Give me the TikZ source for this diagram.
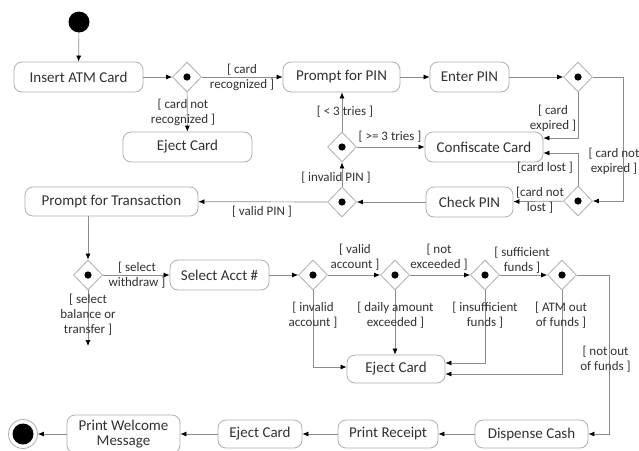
\documentclass[tikz,border=0pt]{standalone}
\usepackage{fontspec}
\setmainfont{Carlito}
\usetikzlibrary{shapes.geometric,arrows.meta}
\definecolor{linec}{RGB}{140,140,140}
\definecolor{boxc}{RGB}{175,175,175}
\definecolor{txtc}{RGB}{50,50,50}
\begin{document}
\begin{tikzpicture}[x=1pt,y=-1pt,
  act/.style={draw=boxc,rounded corners=8pt,line width=0.8pt,minimum height=30pt,inner sep=0pt,text=txtc,font=\fontsize{15}{17}\selectfont,align=center},
  dec/.style={draw=boxc,shape=diamond,minimum width=29pt,minimum height=30pt,inner sep=0pt,line width=0.8pt},
  flow/.style={draw=linec,line width=0.7pt,-{Latex[length=6pt,width=5pt,color=black]}},
  lbl/.style={text=txtc,font=\fontsize{13}{15}\selectfont,align=center,inner sep=0pt}
]
\useasboundingbox (0,0) rectangle (639,450);
\fill[white] (0,0) rectangle (639,450);

% initial / final
\node[circle,fill=black,minimum size=21pt,inner sep=0pt] (start) at (79,22) {};
\node[circle,draw=boxc,line width=0.8pt,minimum size=29pt,inner sep=0pt] (end) at (23,434) {};
\fill (end) circle[radius=10.5pt];

% actions
\node[act,minimum width=129pt] (insert) at (78.5,77) {Insert ATM Card};
\node[act,minimum width=117pt] (pin) at (341.5,77) {Prompt for PIN};
\node[act,minimum width=79pt] (enter) at (469.5,77) {Enter PIN};
\node[act,minimum width=129pt] (eject1) at (187.5,147) {Eject Card};
\node[act,minimum width=118pt] (conf) at (484,147) {Confiscate Card};
\node[act,minimum width=87pt] (check) at (469.5,202) {Check PIN};
\node[act,minimum width=173pt,minimum height=29pt] (ptrans) at (111.5,201.5) {Prompt for Transaction};
\node[act,minimum width=99pt] (sel) at (219.5,275) {Select Acct \#};
\node[act,minimum width=98pt,minimum height=28pt] (eject2) at (396,369) {Eject Card};
\node[act,minimum width=113pt,minimum height=28pt] (disp) at (531.5,434) {Dispense Cash};
\node[act,minimum width=100pt,minimum height=28pt] (receipt) at (388,434) {Print Receipt};
\node[act,minimum width=84pt,minimum height=28pt] (eject3) at (260,434) {Eject Card};
\node[act,minimum width=113pt,minimum height=38pt] (welcome) at (123.5,434) {Print Welcome\\[-2pt]Message};

% decisions
\foreach \n/\x/\y in {d1/187/77, d2/578/77, d3/578/201, d4/342/202, d5/342/147,
                      d6/88/275, d7/313/275, d8/395/275, d9/485/275, d10/562/275} {
  \node[dec] (\n) at (\x,\y) {};
  \fill (\n) circle[radius=3.6pt];
}
\coordinate (other) at (88,346);

% connectors
\draw[flow] (start) -- (insert);
\draw[flow] (insert) -- (d1);
\draw[flow] (d1) -- (pin);
\draw[flow] (d1) -- (eject1);
\draw[flow] (pin) -- (enter);
\draw[flow] (enter) -- (d2);
\draw[flow] (d2.south) |- ([yshift=9pt]conf.east);
\draw[flow] (d2.east) -- ++(30,0) |- (d3.east);
\draw[flow] (d3.north) |- ([yshift=-6pt]conf.east);
\draw[flow] (d3) -- (check);
\draw[flow] (check) -- (d4);
\draw[flow] (d4) -- (d5);
\draw[flow] (d5.north) -- (d5.north |- pin.south);
\draw[flow] (d5) -- (conf);
\draw[flow] (d4) -- (ptrans);
\draw[flow] (d6.north |- ptrans.south) -- (d6.north);
\draw[flow] (d6.south) -- (other);
\draw[flow] (d6) -- (sel);
\draw[flow] (sel) -- (d7);
\draw[flow] (d7) -- (d8);
\draw[flow] (d8) -- (d9);
\draw[flow] (d9) -- (d10);
\draw[flow] (d7.south) |- ([yshift=2pt]eject2.west);
\draw[flow] (d8.south) -- (d8.south |- eject2.north);
\draw[flow] (d9.south) |- ([yshift=6pt]eject2.east);
\draw[flow] (d10.south) |- ([yshift=-5pt]eject2.east);
\draw[flow] (d10.east) -- ++(32,0) |- (disp.east);
\draw[flow] (disp) -- (receipt);
\draw[flow] (receipt) -- (eject3);
\draw[flow] (eject3) -- (welcome);
\draw[flow] (welcome) -- (end);

% guard labels
\node[lbl] (l1) at (242,77.5) {[ card\\recognized ]};
\node[lbl] (l2) at (183,112) {[ card not\\recognized ]};
\node[lbl] (l3) at (345,112) {[ < 3 tries ]};
\node[lbl] (l4) at (390,137) {[ >= 3 tries ]};
\node[lbl] (l5) at (553,118) {[ card\\expired ]};
\node[lbl] (l6) at (545,168) {[card lost ]};
\node[lbl] (l7) at (614,161) {[ card not\\expired ]};
\node[lbl] (l8) at (540,200.5) {[card not\\lost ]};
\node[lbl] (l9) at (336,178) {[ invalid PIN ]};
\node[lbl] (l10) at (262,212) {[ valid PIN ]};
\node[lbl] (l11) at (137,275) {[ select\\withdraw ]};
\node[lbl] (l12) at (88,315) {[ select\\balance or\\transfer ]};
\node[lbl] (l13) at (355,257.5) {[ valid\\account ]};
\node[lbl] (l14) at (439,257.5) {[ not\\exceeded ]};
\node[lbl] (l15) at (522,260.5) {[ sufficient\\funds ]};
\node[lbl] (l16) at (313,315.5) {[ invalid\\account ]};
\node[lbl] (l17) at (395.5,315.5) {[ daily amount\\exceeded ]};
\node[lbl] (l18) at (485,315.5) {[ insufficient\\funds ]};
\node[lbl] (l19) at (561,315.5) {[ ATM out\\of funds ]};
\node[lbl] (l20) at (605.5,359.5) {[ not out\\of funds ]};
\end{tikzpicture}
\end{document}
